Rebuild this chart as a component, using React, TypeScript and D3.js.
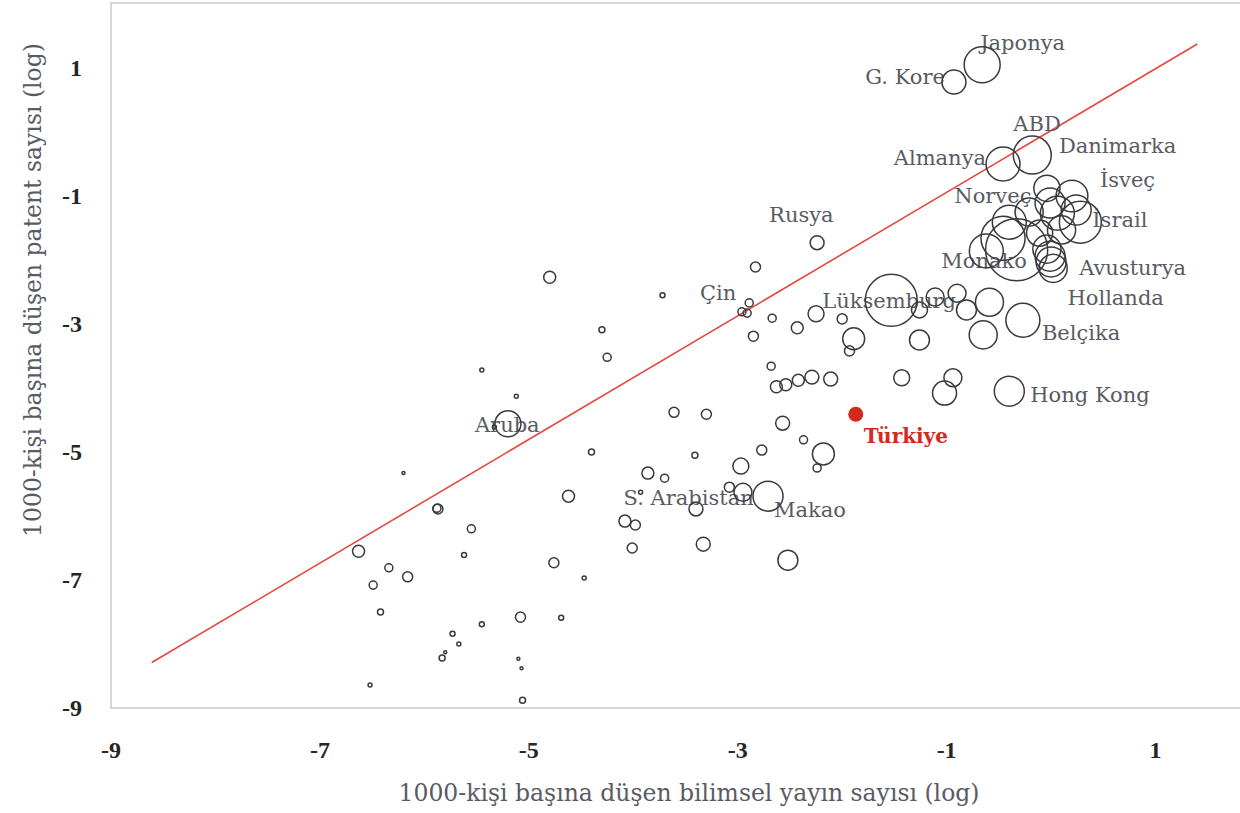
import React from 'react';
import * as d3 from 'd3';

const W = 1240;
const H = 813;

const xTicks = [-9, -7, -5, -3, -1, 1];
const yTicks = [-9, -7, -5, -3, -1, 1];

const xTitle = '1000-kişi başına düşen bilimsel yayın sayısı (log)';
const yTitle = '1000-kişi başına düşen patent sayısı (log)';

// [name, publications per 1000 (log), patents per 1000 (log), bubble size]
const namedCountries: [string, number, number, number][] = [
  ['Japonya', -0.66, 1.05, 36],
  ['G. Kore', -0.93, 0.78, 16],
  ['ABD', -0.18, -0.36, 40],
  ['Almanya', -0.46, -0.5, 32],
  ['Danimarka', -0.04, -0.88, 19],
  ['İsveç', 0.2, -1.0, 28],
  ['Norveç', -0.4, -1.41, 32],
  ['İsrail', 0.28, -1.41, 49],
  ['Monako', -0.62, -1.86, 32],
  ['Avusturya', 0.02, -2.13, 22],
  ['Hollanda', -0.59, -2.66, 21.8],
  ['Lüksemburg', -1.53, -2.63, 75],
  ['Belçika', -0.27, -2.94, 32],
  ['Hong Kong', -0.4, -4.05, 25],
  ['Rusya', -2.24, -1.73, 5.4],
  ['Çin', -2.96, -2.81, 1.8],
  ['Aruba', -5.2, -4.56, 18.8],
  ['S. Arabistan', -3.93, -5.63, 0.44],
  ['Makao', -2.71, -5.69, 25],
];

const turkey: [string, number, number] = ['Türkiye', -1.87, -4.41];

// [publications (log), patents (log), size]
const highIncomeCluster: [number, number, number][] = [
  [-0.01, -1.11, 25], [0.06, -1.27, 32], [0.24, -1.22, 25], [0.1, -1.53, 22],
  [-0.11, -1.58, 19], [-0.46, -1.66, 54], [-0.33, -1.84, 107], [-0.04, -1.83, 22],
  [-0.01, -1.94, 25], [0.0, -2.03, 25], [-0.21, -1.25, 22],
];

const middleCountries: [number, number, number][] = [
  [-2.83, -2.11, 2.8], [-3.72, -2.55, 0.7], [-4.8, -2.27, 4], [-4.3, -3.09, 1],
  [-4.25, -3.52, 1.8], [-2.89, -2.67, 1.8], [-2.91, -2.83, 1.8], [-2.67, -2.91, 1.8],
  [-2.85, -3.19, 2.8], [-2.25, -2.84, 7.1], [-2.0, -2.92, 2.8], [-2.43, -3.06, 4],
  [-1.89, -3.23, 13.4], [-1.93, -3.42, 2.8], [-2.68, -3.66, 1.8], [-2.63, -3.98, 4],
  [-2.54, -3.95, 4], [-2.42, -3.88, 4], [-2.29, -3.83, 5.4], [-2.11, -3.86, 5.4],
  [-1.11, -2.58, 9], [-1.26, -2.78, 7.1], [-0.9, -2.52, 9], [-0.81, -2.78, 11.1],
  [-0.65, -3.17, 21.8], [-1.26, -3.25, 11.1], [-1.43, -3.84, 7.1], [-0.94, -3.84, 9],
  [-1.02, -4.08, 16],
];

const lowerCountries: [number, number, number][] = [
  [-3.61, -4.38, 2.8], [-3.3, -4.41, 2.8], [-2.57, -4.55, 5.4], [-2.37, -4.81, 1.8],
  [-2.77, -4.97, 2.8], [-2.18, -5.03, 13.4], [-2.24, -5.25, 1.8], [-2.97, -5.22, 7.1],
  [-3.41, -5.05, 1], [-4.4, -5.0, 1], [-3.86, -5.33, 4], [-3.7, -5.41, 1.8],
  [-4.62, -5.69, 4], [-3.08, -5.55, 2.8], [-2.95, -5.63, 9], [-3.4, -5.89, 5.4],
  [-4.08, -6.08, 4], [-3.98, -6.14, 2.8], [-4.01, -6.5, 2.8], [-3.33, -6.44, 5.4],
  [-2.52, -6.69, 11.1], [-4.76, -6.73, 2.8], [-4.47, -6.97, 0.44], [-5.08, -7.58, 2.8],
  [-4.69, -7.59, 0.69], [-5.1, -8.23, 0.25], [-5.07, -8.38, 0.25], [-5.06, -8.88, 1],
];

const smallCountries: [number, number, number][] = [
  [-5.33, -4.61, 0.44], [-5.45, -3.72, 0.44], [-5.12, -4.13, 0.44], [-6.2, -5.33, 0.25],
  [-5.87, -5.89, 2.8], [-5.88, -5.88, 1.8], [-5.55, -6.2, 1.8], [-5.62, -6.61, 0.69],
  [-6.63, -6.55, 4], [-6.34, -6.81, 1.8], [-6.16, -6.95, 2.8], [-6.49, -7.08, 1.8],
  [-6.42, -7.5, 1], [-5.45, -7.69, 0.69], [-5.73, -7.84, 0.69], [-5.67, -8.0, 0.44],
  [-5.8, -8.13, 0.25], [-5.83, -8.22, 1], [-6.52, -8.64, 0.44],
];

// trend line end points (log publications, log patents)
const fitLine: [number, number][] = [[-8.61, -8.29], [1.4, 1.375]];

// label placement in px relative to bubble centre
const labelOffsets: Record<string, [number, number, string]> = {
  'Japonya': [-2, -15, 'start'],
  'G. Kore': [-9, 2, 'end'],
  'ABD': [-19, -24, 'start'],
  'Almanya': [-17, 1, 'end'],
  'Danimarka': [12, -35, 'start'],
  'İsveç': [28, -9, 'start'],
  'Norveç': [-55, -19, 'start'],
  'İsrail': [12, 5, 'start'],
  'Monako': [-45, 17, 'start'],
  'Avusturya': [26, 7, 'start'],
  'Hollanda': [78, 3, 'start'],
  'Lüksemburg': [-69, 8, 'start'],
  'Belçika': [19, 20, 'start'],
  'Hong Kong': [21, 11, 'start'],
  'Rusya': [-48, -21, 'start'],
  'Çin': [-42, -12, 'start'],
  'Aruba': [-33, 8, 'start'],
  'S. Arabistan': [-17, 13, 'start'],
  'Makao': [6, 21, 'start'],
  'Türkiye': [8, 29, 'start'],
};

const serif = '"DejaVu Serif", "Liberation Serif", serif';
const labelColor = '#595b63';

export default function App() {
  const x = d3.scaleLinear().domain([-9, 2]).range([111, 1260]);
  const y = d3.scaleLinear().domain([-9, 2]).range([708, 4]);
  const r = d3.scaleSqrt().domain([0, 100]).range([0, 30]);
  const line = d3.line<[number, number]>().x(d => x(d[0])).y(d => y(d[1]));

  const allBubbles = [
    ...namedCountries.map(d => [d[1], d[2], d[3]] as [number, number, number]),
    ...highIncomeCluster,
    ...middleCountries,
    ...lowerCountries,
    ...smallCountries,
  ];

  return (
    <svg width={W} height={H} style={{ position: 'absolute', left: 0, top: 0, background: '#fff' }}>
      <rect x={x(-9)} y={y(2) - 1} width={x(2) - x(-9)} height={y(-9) - y(2) + 1}
        fill="none" stroke="#c9c9c9" strokeWidth={1.5} />

      {xTicks.map(t => (
        <text key={'x' + t} x={x(t)} y={758} textAnchor="middle"
          fontFamily='"Liberation Serif", serif' fontWeight="bold" fontSize={24} fill="#262626">
          {t}
        </text>
      ))}
      {yTicks.map(t => (
        <text key={'y' + t} x={82} y={y(t) + 8} textAnchor="end"
          fontFamily='"Liberation Serif", serif' fontWeight="bold" fontSize={24} fill="#262626">
          {t}
        </text>
      ))}

      <text x={689} y={801} textAnchor="middle" fontFamily={serif} fontSize={23.5} fill={labelColor}>
        {xTitle}
      </text>
      <text transform={`translate(41,${290}) rotate(-90)`} textAnchor="middle"
        fontFamily={serif} fontSize={23.5} fill={labelColor}>
        {yTitle}
      </text>

      <path d={line(fitLine) || ''} fill="none" stroke="#e5493e" strokeWidth={1.6} />

      {namedCountries.map(d => {
        const [dx, dy, anchor] = labelOffsets[d[0]];
        return (
          <text key={d[0]} x={x(d[1]) + dx} y={y(d[2]) + dy} textAnchor={anchor}
            fontFamily={serif} fontSize={21} fill={labelColor}>
            {d[0]}
          </text>
        );
      })}

      {allBubbles.map((d, i) => (
        <circle key={i} cx={x(d[0])} cy={y(d[1])} r={r(d[2])}
          fill="none" stroke="#3a3a3a" strokeWidth={1.5} />
      ))}

      <circle cx={x(turkey[1])} cy={y(turkey[2])} r={7.5} fill="#d42a1e" />
      <text x={x(turkey[1]) + labelOffsets['Türkiye'][0]} y={y(turkey[2]) + labelOffsets['Türkiye'][1]}
        fontFamily={serif} fontWeight="bold" fontSize={20} fill="#d42a1e">
        {turkey[0]}
      </text>
    </svg>
  );
}
